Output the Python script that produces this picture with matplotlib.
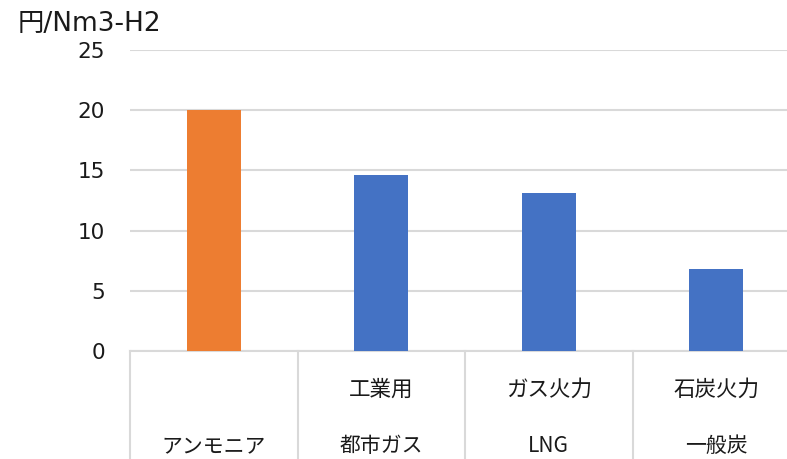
import matplotlib.pyplot as plt
import matplotlib.transforms as mtransforms

plt.rcParams['font.family'] = ['DejaVu Sans', 'Noto Sans CJK JP']

# data
upper_labels = ['', '工業用', 'ガス火力', '石炭火力']
lower_labels = ['アンモニア', '都市ガス', 'LNG', '一般炭']
values = [20.0, 14.6, 13.15, 6.8]
bar_colors = ['#ED7D31', '#4472C4', '#4472C4', '#4472C4']
y_ticks = [0, 5, 10, 15, 20, 25]
unit_label = '円/Nm3-H2'

fig = plt.figure(figsize=(7.87, 4.59), dpi=100)
W, H = 787, 459
left, right, top, bottom = 130, 800, 50, 351
ax = fig.add_axes([left / W, 1 - bottom / H, (right - left) / W, (bottom - top) / H])

x = list(range(len(values)))
ax.bar(x, values, width=0.32, color=bar_colors, zorder=3)

ax.set_xlim(-0.5, len(values) - 0.5)
ax.set_ylim(0, 25)
ax.set_yticks(y_ticks)
ax.tick_params(axis='y', length=0, pad=18, labelsize=15.5, labelcolor='#1a1a1a')
ax.set_xticks([])
ax.grid(axis='y', color='#d9d9d9', linewidth=1.5, zorder=0)
for s in ['top', 'right', 'left']:
    ax.spines[s].set_visible(False)
ax.spines['bottom'].set_color('#d9d9d9')
ax.spines['bottom'].set_linewidth(1.5)

# category table under the axis
trans = mtransforms.blended_transform_factory(ax.transData, ax.transAxes)
depth = (H - bottom) / (bottom - top)
for b in [-0.5, 0.5, 1.5, 2.5]:
    ax.plot([b, b], [0, -depth], transform=trans, color='#d9d9d9',
            linewidth=1.5, clip_on=False)
cjk = ['Noto Sans CJK JP', 'DejaVu Sans']
for i in x:
    ax.text(i, -(390 - bottom) / (bottom - top), upper_labels[i], transform=trans,
            ha='center', va='center', fontsize=15.5, family=cjk, color='#1a1a1a')
    ax.text(i, -(446 - bottom) / (bottom - top), lower_labels[i], transform=trans,
            ha='center', va='center', fontsize=15, family=cjk, color='#1a1a1a')

fig.text(18 / W, 1 - 24 / H, unit_label, ha='left', va='center', fontsize=19,
         color='#1a1a1a')

fig.savefig('out.png', dpi=100)
